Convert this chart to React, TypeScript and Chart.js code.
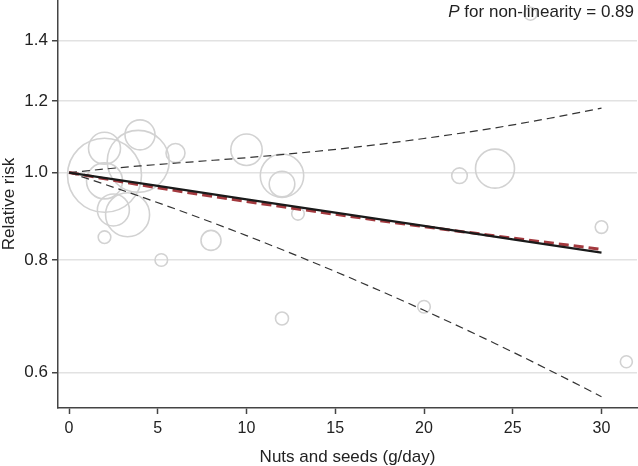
import { useEffect, useRef } from "react";
import { Chart, registerables } from "chart.js";

Chart.register(...registerables);

const FONT = '"Liberation Sans", Arial, Helvetica, sans-serif';

const xTicks = [0, 5, 10, 15, 20, 25, 30];
const yTicks = [0.6, 0.8, 1.0, 1.2, 1.4];

const curveX = [0, 5, 10, 15, 20, 25, 30];
const linearRR = [1.0, 0.9665, 0.9341, 0.9028, 0.8726, 0.8434, 0.8151];
const splineRR = [1.0, 0.962, 0.929, 0.899, 0.871, 0.846, 0.822];

const ciX = [0, 1, 2, 4, 7, 10, 13, 16, 20, 24, 27, 30];
const ciUpper = [1.0, 1.0045, 1.009, 1.0171, 1.0279, 1.0387, 1.0513, 1.0661, 1.0909, 1.1208, 1.148, 1.1788];
const ciLower = [1.0, 0.9854, 0.9706, 0.941, 0.8963, 0.8514, 0.8065, 0.762, 0.7036, 0.6465, 0.6048, 0.5644];

const studyDose = [2.0, 2.0, 4.0, 3.9, 6.0, 2.0, 2.5, 3.3, 2.0, 5.2, 8.0, 10.0, 12.0, 12.0, 12.9, 12.0, 22.0, 24.0, 30.0, 20.0, 31.4, 26.0];
const studyRR = [0.993, 1.064, 1.101, 1.029, 1.051, 0.979, 0.909, 0.898, 0.848, 0.8, 0.841, 1.06, 0.992, 0.971, 0.9, 0.689, 0.992, 1.01, 0.87, 0.71, 0.617, 1.5];
const studyWeight = [37, 16, 15, 31, 9.5, 18, 16, 22, 6.3, 6.3, 10, 15.7, 21.7, 12.8, 6.3, 6.5, 7.8, 19.5, 6.3, 6.3, 6, 6.5];

const xTitle = "Nuts and seeds (g/day)";
const yTitle = "Relative risk";
const annotationLabel = " for non-linearity = 0.89";

const textPlugin = {
  id: "texts",
  afterDraw(chart: any) {
    const ctx = chart.ctx;
    const area = chart.chartArea;
    ctx.save();
    ctx.fillStyle = "#222";
    ctx.font = `17px ${FONT}`;
    ctx.textAlign = "center";
    ctx.textBaseline = "alphabetic";
    ctx.fillText(xTitle, (area.left + area.right) / 2, 462);
    ctx.save();
    ctx.translate(14, (area.top + area.bottom) / 2);
    ctx.rotate(-Math.PI / 2);
    ctx.textAlign = "center";
    ctx.textBaseline = "alphabetic";
    ctx.fillText(yTitle, 0, 0);
    ctx.restore();
    ctx.textAlign = "left";
    ctx.font = `17px ${FONT}`;
    const restW = ctx.measureText(annotationLabel).width;
    ctx.font = `italic 17px ${FONT}`;
    const pW = ctx.measureText("P").width;
    const right = 634;
    const x0 = right - restW - pW;
    ctx.fillText("P", x0, 17);
    ctx.font = `17px ${FONT}`;
    ctx.fillText(annotationLabel, x0 + pW, 17);
    ctx.restore();
  },
};

export default function App() {
  const ref = useRef<HTMLCanvasElement | null>(null);
  useEffect(() => {
    if (!ref.current) return;
    const chart = new Chart(ref.current, {
      data: {
        datasets: [
          {
            type: "line",
            data: curveX.map((x, i) => ({ x, y: linearRR[i] })),
            borderColor: "#1a1a1a",
            borderWidth: 2.3,
            pointRadius: 0,
            fill: false,
          },
          {
            type: "line",
            data: curveX.map((x, i) => ({ x, y: splineRR[i] })),
            borderColor: "#a3393e",
            borderWidth: 3,
            borderDash: [10, 5],
            pointRadius: 0,
            fill: false,
            cubicInterpolationMode: "monotone",
          },
          {
            type: "line",
            data: ciX.map((x, i) => ({ x, y: ciUpper[i] })),
            borderColor: "#333",
            borderWidth: 1.2,
            borderDash: [8, 5],
            pointRadius: 0,
            fill: false,
            cubicInterpolationMode: "monotone",
          },
          {
            type: "line",
            data: ciX.map((x, i) => ({ x, y: ciLower[i] })),
            borderColor: "#333",
            borderWidth: 1.2,
            borderDash: [8, 5],
            pointRadius: 0,
            fill: false,
            cubicInterpolationMode: "monotone",
          },
          {
            type: "bubble",
            data: studyDose.map((x, i) => ({ x, y: studyRR[i], r: studyWeight[i] })),
            borderColor: "#d2d2d2",
            backgroundColor: "rgba(0,0,0,0)",
            borderWidth: 1.6,
            hoverRadius: 0,
          },
        ],
      } as any,
      options: {
        animation: false,
        responsive: false,
        events: [],
        layout: { autoPadding: false, padding: { top: 0, right: 1, left: 0, bottom: 0 } },
        plugins: { legend: { display: false }, tooltip: { enabled: false } },
        scales: {
          x: {
            type: "linear",
            min: -0.62,
            max: 32,
            afterBuildTicks: (s: any) => {
              s.ticks = xTicks.map((v) => ({ value: v }));
            },
            afterFit: (s: any) => {
              s.height = 58;
              s.paddingLeft = 0;
              s.paddingRight = 0;
            },
            grid: { drawOnChartArea: false, drawTicks: true, tickLength: 6, tickColor: "#444", tickWidth: 1.5 },
            border: { display: true, color: "#444", width: 1.5 },
            ticks: { color: "#222", font: { family: FONT, size: 16 }, padding: 5, maxRotation: 0, callback: (v: any) => String(v) },
          },
          y: {
            type: "logarithmic",
            min: 0.5483,
            max: 1.5534,
            afterBuildTicks: (s: any) => {
              s.ticks = yTicks.map((v) => ({ value: v }));
            },
            afterFit: (s: any) => {
              s.width = 58;
              s.paddingTop = 0;
              s.paddingBottom = 0;
            },
            grid: { color: "#e2e2e2", lineWidth: 1.5, drawTicks: true, tickLength: 6, tickColor: "#444", tickWidth: 1.5 },
            border: { display: true, color: "#444", width: 1.5 },
            ticks: { color: "#222", font: { family: FONT, size: 17 }, padding: 4, callback: (v: any) => Number(v).toFixed(1) },
          },
        },
      } as any,
      plugins: [textPlugin],
    });
    return () => chart.destroy();
  }, []);
  return (
    <div style={{ position: "fixed", left: 0, top: 0, width: 638, height: 466, background: "#fff" }}>
      <canvas ref={ref} width={638} height={466} style={{ width: 638, height: 466, display: "block" }} />
    </div>
  );
}
